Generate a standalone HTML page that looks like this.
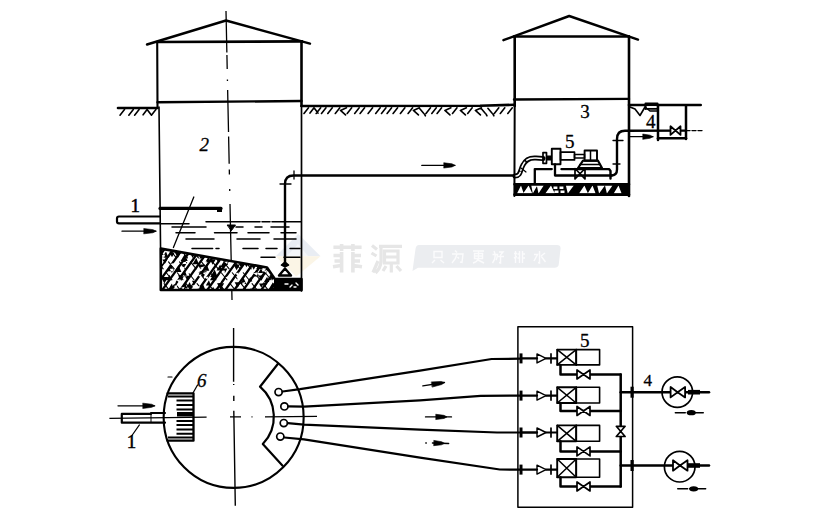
<!DOCTYPE html>
<html><head><meta charset="utf-8"><style>
html,body{margin:0;padding:0;background:#fff;width:821px;height:515px;overflow:hidden}
svg{display:block}
</style></head><body>
<svg width="821" height="515" viewBox="0 0 821 515">
<g stroke="none">
<polygon points="298.2,233.9 320.5,256.2 275.8,256.2" fill="#e9edf3"/>
<polygon points="275.8,256.2 320.5,256.2 296.2,276.6" fill="#fbf5e6"/>
<polygon points="298,244 308,256 287,256" fill="#f4f6f9"/>
</g>
<g stroke="#e6e6e6" stroke-width="3.6" stroke-linecap="butt" fill="none">
<path d="M333.4,247.3 L361.6,247.3 M341.6,244 L341.6,251 M352.9,244 L352.9,251 M341.6,252 L341.6,272.5 M352.9,252 L352.9,272.5 M333.5,255.5 L341,255.5 M334.5,261 L341,261 M333,266.8 L341,265.5 M353,255.5 L361,255.5 M353,261 L360,261 M353,265.5 L362,266.8" stroke-width="3.6" />
<path d="M372,245.5 L377,249.5 M371.5,253 L376.5,256 M378,261 L373,272.5 M379,246.3 L402,246.3 M381,247 L381,262 Q380.5,268 375.5,273 M384.5,251 L398,251 L398,263 L384.5,263 Z M384.5,257 L398,257 M391.3,263 L391.3,272.5 M386,266 L383,271 M396.5,266 L401,271" stroke-width="3.2" />
</g>
<path d="M419,245 L557,245 Q561,245 560.5,249 L558.8,264 Q558.5,267.8 554.5,267.8 L418,267.8 L412.5,271 L415.5,249 Q416,245 419,245 Z" fill="#ebedf0" stroke="none"/>
<g stroke="#fbfbfc" stroke-width="1.4" fill="none">
<path d="M434,251.5 L442,251.5 L442,257.5 L434,257.5 Z M435,260 L432,263 M440.5,260 L444,263" stroke-width="1.4" />
<path d="M455,250.5 L457,252.5 M452,254 L463,254 L462,262.5 L460,262 M457,254 Q456,259 452,263 M457.5,257 L459,258.5" stroke-width="1.4" />
<path d="M473,251 L484,251 M474.5,253.5 L482.5,253.5 L482.5,258.5 L474.5,258.5 Z M474.5,256 L482.5,256 M478.5,251 L478.5,258.5 Q477,262 473,263 M478,260 L484,263" stroke-width="1.4" />
<path d="M494,251 Q497,257 492.5,263 M492.5,254.5 L497.5,254.5 Q497,259 496,260 M499,252 L503,252 L500.5,255 L500.5,263 L499,262.5 M498,256.5 L504,256.5" stroke-width="1.4" />
<path d="M514,253.5 L517,253.5 M515.5,251 L515.5,263 M514,258 L517,256.5 M519.5,251 L519.5,263 M522.5,251 L522.5,263 M517.5,254 L519.5,254 M517.5,258 L519.5,258 M522.5,254 L525,254 M522.5,258 L525,258" stroke-width="1.4" />
<path d="M539.5,251 L539.5,263 L538,262.5 M534,254.5 L537.5,254.5 L534,261 M545,253 L541,256 M541,256 L545.5,262" stroke-width="1.4" />
</g>
<g stroke="#000" fill="none" stroke-linecap="round" stroke-linejoin="round">
<polyline points="147,44.5 226,20.5 310,43.6" stroke-width="2.4" />
<line x1="157" y1="42" x2="302" y2="41.4" stroke-width="2.7" />
<line x1="157.2" y1="42" x2="157.5" y2="108" stroke-width="2.1" />
<line x1="301.5" y1="41.5" x2="301.5" y2="106" stroke-width="2.6" />
<line x1="157.5" y1="102.3" x2="301.5" y2="101" stroke-width="2.4" />
<line x1="118" y1="108" x2="157.5" y2="108" stroke-width="2.6" />
<path d="M124.5,109.5 L120.0,115.2 M133.3,109.5 L128.8,115.2 M139.1,109.5 L134.6,115.2 M143.1,114.8 L147.1,109.5 L151.1,114.8 M155.9,109.5 L151.4,115.2" stroke-width="1.6" />
<line x1="159" y1="107" x2="161" y2="290" stroke-width="1.6" />
<line x1="301.5" y1="106" x2="301.5" y2="291" stroke-width="1.7" />
<path d="M226.00,11 L226.86,52.5 M226.92,55 L227.21,69 M227.42,79.5 L227.46,81 M227.64,90 L228.52,132 M228.61,136.6 L229.18,163.7 M229.30,169.5 L229.40,174.5 M229.70,189 L229.74,191 M230.01,204 L232.01,300" stroke-width="1.3" stroke-linecap="butt"/>
<path d="M301.5,106 L480,105.7 L514,104.8" stroke-width="2.6" />
<path d="M308.5,107.8 L304.0,113.5 M310.0,113.1 L314.0,107.8 L318.0,113.1 M320.7,107.8 L316.2,113.5 M326.0,107.8 L321.5,113.5 M332.3,107.8 L327.8,113.5 M339.8,107.8 L335.3,113.5 M346.5,107.8 L340.5,110.4 L345.5,114.9 M351.7,107.8 L347.2,113.5 M359.2,107.8 L354.7,113.5 M364.6,107.8 L360.1,113.5 M372.6,107.8 L368.1,113.5 M380.2,107.8 L375.7,113.5 M386.0,107.8 L381.5,113.5 M391.6,107.8 L387.1,113.5 M397.6,107.8 L393.1,113.5 M404.9,107.8 L400.4,113.5 M412.6,107.8 L408.1,113.5 M419.4,107.8 L413.4,110.4 L418.4,114.9 M419.4,108.3 L423.4,113.1 M424.4,114.0 L425.4,115.8 M430.5,107.8 L426.0,113.5 M436.3,107.8 L431.8,113.5 M441.6,107.8 L437.1,113.5 M450.9,107.8 L444.9,110.4 L449.9,114.9 M457.0,107.8 L452.5,113.5 M466.4,107.8 L460.4,110.4 L465.4,114.9 M472.2,107.8 L467.7,113.5 M481.4,107.8 L475.4,110.4 L480.4,114.9 M481.0,108.3 L485.0,113.1 M486.0,114.0 L487.0,115.8 M487.9,108.3 L491.9,113.1 M492.9,114.0 L493.9,115.8 M498.8,107.8 L494.3,113.5 M504.8,107.8 L500.3,113.5 M512.3,107.8 L507.8,113.5" stroke-width="1.6" />
<line x1="629" y1="105" x2="700.7" y2="105" stroke-width="2.6" />
<polyline points="503.4,40.2 569.2,16 638,39.6" stroke-width="2.4" />
<line x1="514" y1="36.5" x2="629" y2="36.5" stroke-width="2.6" />
<line x1="514.7" y1="36.5" x2="514.7" y2="106" stroke-width="2.6" />
<line x1="629" y1="36.5" x2="629" y2="196" stroke-width="2.6" />
<line x1="514.7" y1="106" x2="514.4" y2="196" stroke-width="2.0" />
<line x1="514" y1="99.5" x2="629" y2="98.9" stroke-width="2.4" />
<text x="199.6" y="150.8" font-family="Liberation Serif" font-size="19" font-style="italic" fill="#000" stroke="#000" stroke-width="0.3">2</text>
<text x="130.5" y="212" font-family="Liberation Serif" font-size="19" fill="#000" stroke="#000" stroke-width="0.5">1</text>
<path d="M160,216.5 L119,216.5 Q117,216.5 117,218.5 L117,221.5 Q117,223.3 119,223.3 L160,223.3" stroke-width="2.2" />
<line x1="122" y1="231.2" x2="156" y2="231.2" stroke-width="1.3"/>
<polygon points="144.00,228.60 153.00,229.64 156.00,231.20 153.00,232.76 144.00,233.80" fill="#000" stroke="#000" stroke-width="0.6"/>
<line x1="160" y1="208.4" x2="221" y2="208.4" stroke-width="3.2" />
<rect x="217" y="207" width="5" height="5" fill="#000" stroke="none"/>
<line x1="193.8" y1="197" x2="173.4" y2="247.5" stroke-width="1.3" />
<path d="M160.5,223.8 L189,223.8" stroke-width="1.5" />
<path d="M206,221.8 L260,221.8 M262,221.8 L270,221.8 M272,221.8 L301,221.8" stroke-width="1.5" />
<path d="M172,226.9 L206,226.9 M236,226.9 L243,226.9 M255,226.9 L262,226.9 M271,226.9 L289,226.9" stroke-width="1.5" />
<path d="M176,232.8 L195,232.8 M214.5,232.8 L237,232.8 M248,232.8 L269,232.8 M281,232.8 L296,232.8" stroke-width="1.5" />
<path d="M186,238.9 L214,238.9 M237,238.9 L260,238.9 M274,238.9 L296,238.9" stroke-width="1.5" />
<path d="M192,248.4 L212.6,248.4 M216,248.4 L219,248.4 M243,248.4 L258,248.4 M266,248.4 L277,248.4 M290,248.4 L300,248.4" stroke-width="1.5" />
<path d="M261,257.2 L275,257.2 M284,257.2 L300,257.2" stroke-width="1.5" />
<path d="M227.5,225 L235.5,225 L231.5,230.5 Z" stroke-width="1" fill="#000"/>
<clipPath id="sedc"><polygon points="160.8,248.6 267,267.5 274.8,279 301.5,279 301.5,290 160.8,290"/></clipPath>
<g clip-path="url(#sedc)">
<polygon points="160.8,248.6 267,267.5 274.8,279 301.5,279 301.5,290 160.8,290" fill="#fff" stroke="none"/>
<polygon points="160.8,248.6 267,267.5 274.8,279 301.5,279 301.5,290 160.8,290" fill="#fff" stroke="none"/>
<path d="M32,296 L72,240 M41,296 L81,240 M50,296 L90,240 M59,296 L99,240 M68,296 L108,240 M77,296 L117,240 M86,296 L126,240 M95,296 L135,240 M104,296 L144,240 M113,296 L153,240 M122,296 L162,240 M131,296 L171,240 M140,296 L180,240 M149,296 L189,240 M158,296 L198,240 M167,296 L207,240 M176,296 L216,240 M185,296 L225,240 M194,296 L234,240 M203,296 L243,240 M212,296 L252,240 M221,296 L261,240 M230,296 L270,240 M239,296 L279,240 M248,296 L288,240 M257,296 L297,240 M266,296 L306,240 M275,296 L315,240 M284,296 L324,240 M293,296 L333,240 M302,296 L342,240 M311,296 L351,240 M320,296 L360,240 M329,296 L369,240 M338,296 L378,240 M347,296 L387,240 M356,296 L396,240 M365,296 L405,240 M374,296 L414,240 M383,296 L423,240 M392,296 L432,240 M401,296 L441,240 M410,296 L450,240 M419,296 L459,240 M428,296 L468,240 M437,296 L477,240 M446,296 L486,240 M455,296 L495,240 M464,296 L504,240 M473,296 L513,240 M482,296 L522,240 M491,296 L531,240" stroke="#000" stroke-width="2.3"/>
<path d="M8,240 L53,296 M19,240 L64,296 M30,240 L75,296 M41,240 L86,296 M52,240 L97,296 M63,240 L108,296 M74,240 L119,296 M85,240 L130,296 M96,240 L141,296 M107,240 L152,296 M118,240 L163,296 M129,240 L174,296 M140,240 L185,296 M151,240 L196,296 M162,240 L207,296 M173,240 L218,296 M184,240 L229,296 M195,240 L240,296 M206,240 L251,296 M217,240 L262,296 M228,240 L273,296 M239,240 L284,296 M250,240 L295,296 M261,240 L306,296 M272,240 L317,296 M283,240 L328,296 M294,240 L339,296 M305,240 L350,296 M316,240 L361,296 M327,240 L372,296 M338,240 L383,296 M349,240 L394,296 M360,240 L405,296 M371,240 L416,296 M382,240 L427,296 M393,240 L438,296 M404,240 L449,296 M415,240 L460,296 M426,240 L471,296 M437,240 L482,296 M448,240 L493,296 M459,240 L504,296 M470,240 L515,296 M481,240 L526,296 M492,240 L537,296 M503,240 L548,296 M514,240 L559,296 M525,240 L570,296 M536,240 L581,296 M547,240 L592,296 M558,240 L603,296 M569,240 L614,296" stroke="#000" stroke-width="1.1" stroke-dasharray="9 5"/>
<path d="M150.2,247.6 l5.9,0 l-2.4,-5.9 Z M148.7,252.4 l6.4,0 l-2.6,-6.4 Z M149.2,257.3 l6.9,0 l-2.8,-6.9 Z M151.9,266.3 l6.5,0 l-2.6,-6.5 Z M148.1,264.1 l4.7,0 l-2.3,4.2 Z M148.1,275.7 l5.8,0 l-2.3,-5.8 Z M150.6,276.0 l6.5,0 l-3.2,5.8 Z M152.0,291.0 l7.0,0 l-2.8,-7.0 Z M148.9,291.9 l4.7,0 l-1.9,-4.7 Z M151.4,300.9 l7.4,0 l-2.9,-7.4 Z M154.8,247.6 l5.9,0 l-2.4,-5.9 Z M154.3,246.5 l6.8,0 l-3.4,6.2 Z M155.3,253.9 l6.8,0 l-3.4,6.1 Z M154.4,256.2 l6.9,0 l-3.4,6.2 Z M155.8,262.8 l6.7,0 l-3.3,6.0 Z M155.7,280.2 l5.3,0 l-2.1,-5.3 Z M157.5,292.5 l5.7,0 l-2.3,-5.7 Z M164.0,244.1 l5.3,0 l-2.1,-5.3 Z M161.2,249.1 l4.8,0 l-1.9,-4.8 Z M162.4,257.3 l5.9,0 l-2.3,-5.9 Z M162.3,259.5 l5.0,0 l-2.5,4.5 Z M160.8,277.0 l7.3,0 l-3.7,6.6 Z M166.4,238.2 l7.4,0 l-3.7,6.6 Z M169.3,252.4 l5.4,0 l-2.7,4.8 Z M166.9,271.3 l7.1,0 l-2.8,-7.1 Z M169.7,268.8 l4.5,0 l-2.3,4.1 Z M166.2,280.3 l5.6,0 l-2.2,-5.6 Z M167.4,291.0 l7.4,0 l-3.0,-7.4 Z M166.6,296.7 l4.6,0 l-1.8,-4.6 Z M174.5,251.9 l6.7,0 l-3.3,6.0 Z M174.2,272.1 l7.2,0 l-2.9,-7.2 Z M174.7,289.6 l7.1,0 l-3.6,6.4 Z M180.5,251.8 l6.2,0 l-2.5,-6.2 Z M180.6,261.1 l7.1,0 l-2.9,-7.1 Z M180.9,264.1 l5.8,0 l-2.3,-5.8 Z M181.0,262.1 l6.3,0 l-3.2,5.7 Z M180.8,276.3 l6.3,0 l-2.5,-6.3 Z M178.0,275.2 l6.5,0 l-3.3,5.9 Z M181.6,288.5 l5.8,0 l-2.3,-5.8 Z M180.7,292.6 l5.8,0 l-2.3,-5.8 Z M186.3,245.3 l4.9,0 l-2.5,4.4 Z M184.7,275.8 l5.3,0 l-2.7,4.8 Z M186.5,287.4 l5.4,0 l-2.2,-5.4 Z M184.3,292.1 l7.1,0 l-3.6,6.4 Z M191.2,247.2 l4.6,0 l-2.3,4.1 Z M190.1,253.3 l5.2,0 l-2.6,4.7 Z M192.5,264.2 l6.4,0 l-2.6,-6.4 Z M191.9,280.7 l4.5,0 l-2.3,4.1 Z M191.1,300.0 l6.6,0 l-2.6,-6.6 Z M199.2,258.4 l4.8,0 l-1.9,-4.8 Z M197.8,264.5 l7.2,0 l-3.6,6.5 Z M199.5,271.2 l7.3,0 l-3.7,6.6 Z M198.9,289.7 l6.4,0 l-2.6,-6.4 Z M199.6,297.4 l7.4,0 l-3.0,-7.4 Z M205.6,241.4 l5.5,0 l-2.8,5.0 Z M204.2,247.1 l6.0,0 l-3.0,5.4 Z M205.2,262.2 l5.5,0 l-2.2,-5.5 Z M202.6,270.7 l6.7,0 l-2.7,-6.7 Z M205.8,285.5 l5.2,0 l-2.1,-5.2 Z M204.9,294.6 l6.1,0 l-2.4,-6.1 Z M203.2,300.6 l7.0,0 l-2.8,-7.0 Z M211.4,247.9 l6.1,0 l-2.4,-6.1 Z M210.1,246.0 l6.3,0 l-3.2,5.7 Z M209.6,259.2 l6.2,0 l-3.1,5.6 Z M210.2,277.0 l7.4,0 l-2.9,-7.4 Z M209.9,280.3 l5.8,0 l-2.3,-5.8 Z M209.3,293.1 l6.4,0 l-2.5,-6.4 Z M211.1,292.1 l5.1,0 l-2.5,4.6 Z M215.4,251.3 l4.8,0 l-1.9,-4.8 Z M216.0,256.1 l5.1,0 l-2.0,-5.1 Z M215.5,257.7 l6.1,0 l-3.0,5.5 Z M216.5,270.6 l6.1,0 l-2.4,-6.1 Z M217.0,283.2 l7.2,0 l-3.6,6.5 Z M217.7,294.4 l7.5,0 l-3.0,-7.5 Z M215.0,294.9 l5.3,0 l-2.6,4.8 Z M223.2,250.2 l5.7,0 l-2.3,-5.7 Z M220.8,260.0 l7.2,0 l-2.9,-7.2 Z M222.0,265.0 l6.0,0 l-2.4,-6.0 Z M220.3,267.0 l4.6,0 l-1.8,-4.6 Z M222.3,268.6 l5.1,0 l-2.5,4.5 Z M220.2,301.7 l5.9,0 l-2.4,-5.9 Z M227.9,245.9 l5.8,0 l-2.3,-5.8 Z M228.8,247.4 l5.0,0 l-2.5,4.5 Z M226.8,256.7 l6.0,0 l-3.0,5.4 Z M228.4,301.5 l7.4,0 l-3.0,-7.4 Z M235.6,247.8 l6.8,0 l-2.7,-6.8 Z M235.6,254.1 l6.6,0 l-2.6,-6.6 Z M234.9,256.3 l5.5,0 l-2.8,5.0 Z M233.4,264.6 l6.4,0 l-3.2,5.7 Z M234.6,282.3 l6.1,0 l-3.0,5.5 Z M240.5,259.0 l5.3,0 l-2.6,4.7 Z M238.8,263.5 l4.8,0 l-2.4,4.3 Z M240.0,284.1 l6.2,0 l-2.5,-6.2 Z M240.4,299.7 l4.6,0 l-1.9,-4.6 Z M245.9,244.7 l6.0,0 l-2.4,-6.0 Z M247.8,251.8 l6.1,0 l-2.4,-6.1 Z M245.1,252.6 l6.2,0 l-3.1,5.6 Z M244.1,263.0 l4.6,0 l-2.3,4.2 Z M247.6,281.6 l4.7,0 l-1.9,-4.7 Z M247.6,293.7 l5.9,0 l-2.4,-5.9 Z M246.1,295.7 l6.7,0 l-3.3,6.0 Z M252.5,257.8 l5.1,0 l-2.6,4.6 Z M250.5,263.8 l6.5,0 l-3.3,5.9 Z M252.3,276.5 l6.8,0 l-2.7,-6.8 Z M250.5,302.4 l6.9,0 l-2.7,-6.9 Z M257.1,246.9 l6.2,0 l-2.5,-6.2 Z M257.0,267.2 l7.2,0 l-2.9,-7.2 Z M256.2,268.9 l5.8,0 l-2.3,-5.8 Z M258.2,273.0 l4.8,0 l-1.9,-4.8 Z M258.5,275.5 l5.9,0 l-3.0,5.3 Z M259.0,283.4 l4.7,0 l-2.4,4.3 Z M263.7,245.0 l6.9,0 l-3.5,6.2 Z M264.2,265.0 l7.3,0 l-3.6,6.5 Z M262.4,271.5 l4.7,0 l-2.4,4.3 Z M263.9,282.1 l5.4,0 l-2.2,-5.4 Z M262.9,282.6 l4.7,0 l-2.4,4.3 Z M268.6,239.4 l6.7,0 l-3.3,6.0 Z M270.8,253.5 l7.3,0 l-2.9,-7.3 Z M271.2,257.2 l5.5,0 l-2.7,4.9 Z M269.4,275.5 l5.6,0 l-2.8,5.0 Z M268.8,289.1 l6.9,0 l-2.8,-6.9 Z M268.7,295.0 l7.1,0 l-3.6,6.4 Z M276.1,246.4 l6.2,0 l-2.5,-6.2 Z M276.2,259.2 l4.8,0 l-2.4,4.3 Z M276.5,281.3 l6.7,0 l-2.7,-6.7 Z M274.9,289.1 l6.1,0 l-2.4,-6.1 Z M275.4,289.9 l6.5,0 l-3.3,5.9 Z M276.9,294.8 l7.2,0 l-3.6,6.5 Z M282.8,289.2 l5.8,0 l-2.9,5.2 Z M283.0,296.0 l5.6,0 l-2.8,5.1 Z M287.7,239.2 l7.4,0 l-3.7,6.7 Z M286.5,246.6 l6.8,0 l-3.4,6.1 Z M287.8,252.3 l7.2,0 l-3.6,6.5 Z M286.7,262.1 l5.2,0 l-2.1,-5.2 Z M286.9,262.7 l5.3,0 l-2.7,4.8 Z M288.2,277.3 l5.9,0 l-3.0,5.3 Z M288.2,295.8 l5.9,0 l-3.0,5.4 Z M295.8,246.9 l5.7,0 l-2.3,-5.7 Z M293.1,248.0 l6.5,0 l-3.2,5.8 Z M293.9,258.4 l6.9,0 l-2.8,-6.9 Z M292.6,268.6 l5.3,0 l-2.1,-5.3 Z M294.5,277.3 l5.3,0 l-2.1,-5.3 Z M295.1,281.0 l7.0,0 l-2.8,-7.0 Z M293.1,288.9 l4.8,0 l-2.4,4.3 Z M295.8,294.3 l7.1,0 l-3.5,6.4 Z M301.7,244.4 l7.0,0 l-3.5,6.3 Z M300.1,250.6 l7.0,0 l-3.5,6.3 Z M298.3,263.1 l5.9,0 l-2.4,-5.9 Z M300.7,262.4 l5.7,0 l-2.8,5.1 Z M299.5,294.1 l5.2,0 l-2.1,-5.2 Z M298.0,296.0 l6.9,0 l-3.4,6.2 Z M305.5,246.2 l5.4,0 l-2.7,4.9 Z M306.7,256.1 l5.1,0 l-2.0,-5.1 Z M307.8,258.3 l6.7,0 l-3.3,6.0 Z M304.6,274.9 l6.5,0 l-2.6,-6.5 Z M305.6,277.3 l6.3,0 l-3.1,5.7 Z M304.6,280.5 l5.7,0 l-2.9,5.1 Z M306.0,301.4 l6.8,0 l-2.7,-6.8 Z" fill="#000" stroke="none"/>
<path d="M203.2,261.9 l3.5,-1 l-1,3 Z M206.2,248.6 l3.5,-1 l-1,3 Z M204.9,277.4 l3.5,-1 l-1,3 Z M272.9,281.2 l3.5,-1 l-1,3 Z M235.2,273.6 l3.5,-1 l-1,3 Z M160.2,261.9 l3.5,-1 l-1,3 Z M198.0,275.3 l3.5,-1 l-1,3 Z M170.4,263.9 l3.5,-1 l-1,3 Z M217.6,281.1 l3.5,-1 l-1,3 Z M254.5,273.7 l3.5,-1 l-1,3 Z M176.5,280.2 l3.5,-1 l-1,3 Z M263.7,271.0 l3.5,-1 l-1,3 Z M199.2,269.0 l3.5,-1 l-1,3 Z M174.6,278.0 l3.5,-1 l-1,3 Z M273.5,269.7 l3.5,-1 l-1,3 Z M241.7,283.1 l3.5,-1 l-1,3 Z M181.1,287.7 l3.5,-1 l-1,3 Z M231.4,256.3 l3.5,-1 l-1,3 Z M167.7,258.3 l3.5,-1 l-1,3 Z M225.4,277.3 l3.5,-1 l-1,3 Z M196.5,287.0 l3.5,-1 l-1,3 Z M200.3,267.4 l3.5,-1 l-1,3 Z M172.5,288.9 l3.5,-1 l-1,3 Z M173.9,286.0 l3.5,-1 l-1,3 Z M221.6,271.6 l3.5,-1 l-1,3 Z M223.6,259.1 l3.5,-1 l-1,3 Z M264.4,289.7 l3.5,-1 l-1,3 Z M253.6,273.3 l3.5,-1 l-1,3 Z M172.4,282.6 l3.5,-1 l-1,3 Z M191.8,285.7 l3.5,-1 l-1,3 Z M186.2,272.1 l3.5,-1 l-1,3 Z M255.2,255.8 l3.5,-1 l-1,3 Z M222.1,251.2 l3.5,-1 l-1,3 Z M161.7,255.6 l3.5,-1 l-1,3 Z M273.5,287.5 l3.5,-1 l-1,3 Z M235.0,260.9 l3.5,-1 l-1,3 Z M236.5,279.0 l3.5,-1 l-1,3 Z M202.7,272.9 l3.5,-1 l-1,3 Z M252.0,248.7 l3.5,-1 l-1,3 Z M181.3,267.7 l3.5,-1 l-1,3 Z M174.7,264.2 l3.5,-1 l-1,3 Z M224.6,255.3 l3.5,-1 l-1,3 Z M218.8,259.1 l3.5,-1 l-1,3 Z M224.5,261.9 l3.5,-1 l-1,3 Z M233.1,249.6 l3.5,-1 l-1,3 Z" fill="#fff" stroke="none"/>
<rect x="274" y="279" width="28" height="12" fill="#000" stroke="none"/>
<path d="M285,284 l3,0 M290,287 l2,-2 M296,283 l2,2 M294,287 l2,0" stroke="#fff" stroke-width="1.4"/>
</g>
<polygon points="160.8,248.6 267,267.5 274.8,279 301.5,279 301.5,290 160.8,290" fill="none" stroke="#000" stroke-width="2.6"/>
<path d="M285,264.5 L285,184 Q285,175.5 293.5,175.5 L514,175.5" stroke-width="2.4" />
<line x1="280" y1="184" x2="291" y2="184" stroke-width="1.3" />
<line x1="294" y1="171" x2="294" y2="179" stroke-width="1.3" />
<path d="M285,262 l3.5,3 l-3.5,1.8 l-3.5,-1.8 Z" stroke-width="1.6" fill="#000"/>
<path d="M279,275.5 L291,275.5 L285,268.5 Z" stroke-width="2.4" />
<line x1="421.8" y1="165.4" x2="455" y2="165.4" stroke-width="1.3"/>
<polygon points="444.00,162.80 452.00,163.84 455.00,165.40 452.00,166.96 444.00,168.00" fill="#000" stroke="#000" stroke-width="0.6"/>
<text x="580.2" y="118" font-family="Liberation Serif" font-size="19" fill="#000" stroke="#000" stroke-width="0.3">3</text>
<text x="565.1" y="148.1" font-family="Liberation Serif" font-size="19" fill="#000" stroke="#000" stroke-width="0.3">5</text>
<text x="646.1" y="128.1" font-family="Liberation Serif" font-size="19" fill="#000" stroke="#000" stroke-width="0.3">4</text>
<clipPath id="slabc"><rect x="514.5" y="184" width="115" height="11"/></clipPath>
<g clip-path="url(#slabc)">
<rect x="514.5" y="184" width="115" height="11" fill="#000" stroke="none"/>
<path d="M517.0,193.4 L523.7,193.4 L521.0,185.6 Z M523.1,193.4 L532.3,193.4 L528.6,185.6 Z M531.3,185.6 L537.3,185.6 L532.8,193.4 Z M536.8,185.6 L543.7,185.6 L538.5,193.4 Z M545.3,193.4 L554.8,193.4 L551.0,185.6 Z M553.5,186.5 l3.9,0 l0,2.5 l-3.9,0 Z M554.5,190.5 l4,0 l0,2.5 l-4,0 Z M559.5,186.5 l3.9,0 l0,2.5 l-3.9,0 Z M560.5,190.5 l4,0 l0,2.5 l-4,0 Z M565.9,185.6 L573.8,185.6 L567.8,193.4 Z M579.0,193.4 L588.0,193.4 L584.4,185.6 Z M587.7,193.4 L595.6,193.4 L592.5,185.6 Z M597.2,185.6 L604.9,185.6 L599.1,193.4 Z M605.0,185.6 L612.5,185.6 L606.9,193.4 Z M613.7,193.4 L621.6,193.4 L618.5,185.6 Z" fill="#fff" stroke="none"/>
</g>
<path d="M514.5,184.2 L629,184.2 M514.5,194.6 L629,194.6" stroke-width="2.6" />
<path d="M515,176 C521,176 520,170 523,165 C526,159 530,157.5 536,158 L543,158.5" stroke-width="5.0" />
<path d="M516,176 C521,176 520,170 523,165 C526,159 530,157.5 536,158 L542,158.5" stroke-width="1.5" stroke="#fff" stroke-dasharray="6 2 9 3 20"/>
<line x1="521" y1="168" x2="526" y2="172" stroke-width="1.2" />
<rect x="543" y="152.6" width="3.5" height="10.7" stroke-width="1.7"/>
<rect x="546.5" y="155.5" width="5" height="5" fill="#000" stroke="none"/>
<rect x="551.8" y="148.7" width="8.7" height="15.6" stroke-width="1.9"/>
<rect x="560.5" y="152.1" width="14" height="7.8" stroke-width="1.7"/>
<rect x="574.5" y="154.5" width="10" height="3.5" stroke-width="1.5"/>
<rect x="584.6" y="150.5" width="12.4" height="10.2" stroke-width="1.9"/>
<line x1="590.5" y1="151" x2="590.5" y2="160" stroke-width="1.5" />
<path d="M583,160.7 L598,160.7 L602,168 L578,168 Z" stroke-width="2.2" />
<line x1="580" y1="164.5" x2="600" y2="164.5" stroke-width="1.6" />
<path d="M534.8,183 L534.8,169.1 L551.8,169.1" stroke-width="2.3" />
<path d="M561.5,169.1 L609,169.1 L610.5,171 L610.5,178.5" stroke-width="2.4" />
<path d="M611,175.5 Q617,175.5 617,169.5 L617,139 Q617,130.8 625,130.8 L686,130.6" stroke-width="2.4" />
<path d="M555,164.3 L555,175.5 L612,175.5" stroke-width="2.3" />
<path d="M575,168.5 L585,179 L585,168.5 L575,179 Z" stroke-width="1.7" />
<line x1="613" y1="140.5" x2="623" y2="140.5" stroke-width="1.3" />
<line x1="613" y1="164" x2="620" y2="164" stroke-width="1.3" />
<path d="M630,107 L635,109 L640,115.5 L645,107 L650,111 L657,111" stroke-width="1.6" />
<path d="M645.5,109 L645.5,103.5 L657.5,103.5 M645.5,108.8 L657.5,108.8" stroke-width="2.0" />
<rect x="647" y="106.2" width="9.5" height="1.6" fill="#fff" stroke="none"/>
<line x1="658" y1="105" x2="658" y2="140" stroke-width="2.5" />
<line x1="686" y1="106" x2="686" y2="139" stroke-width="2.5" />
<line x1="658" y1="138.3" x2="686" y2="138.3" stroke-width="2.5" />
<path d="M670.5,126.3 L670.5,134.9 L680.5,126.3 L680.5,134.9 Z" stroke-width="1.8" fill="#fff"/>
<path d="M686,130.6 L702,130.6" stroke-width="1.4" stroke-dasharray="4 2"/>
<line x1="630" y1="136.7" x2="653" y2="136.7" stroke-width="1.3"/>
<polygon points="643.00,134.10 650.00,135.14 653.00,136.70 650.00,138.26 643.00,139.30" fill="#000" stroke="#000" stroke-width="0.6"/>
<ellipse cx="233.65" cy="417.4" rx="70" ry="70.5" stroke-width="2.1"/>
<path d="M233.6,328.1 L233.6,381.8 M233.7,384 L233.7,385 M233.8,395.8 L233.8,401 M233.8,410.7 L235.3,505.8" stroke-width="1.4" stroke-linecap="butt"/>
<path d="M109.4,418.3 L206.6,417.2 M230,416.8 L241,416.8 M251.5,416.8 L252.5,416.8 M265,416.8 L317,416.4" stroke-width="1.3" stroke-linecap="butt"/>
<path d="M167.5,393.3 L193.5,393.3 L193.5,440.7 L167.5,440.7" stroke-width="2.3" />
<path d="M168,396.5 L193,396.5 M176.5,400.4 L193,400.4 M176.5,405 L193,405 M176.5,409.5 L193,409.5 M176.5,421 L193,421 M176.5,425 L193,425 M176.5,429.5 L193,429.5 M176.5,433.8 L193,433.8 M168,437.5 L193,437.5" stroke-width="2.0" stroke-linecap="butt"/>
<rect x="177" y="412" width="16" height="4.5" fill="#000" stroke="none"/>
<line x1="168" y1="377" x2="172" y2="377" stroke-width="1.2" />
<path d="M165,413 L151,413 L151,413.9 L121.8,413.9 L121.8,422.7 L165,422.7" stroke-width="2.2" />
<line x1="151" y1="414" x2="151" y2="422.5" stroke-width="1.0" />
<line x1="118" y1="405.8" x2="154.7" y2="405.8" stroke-width="1.3"/>
<polygon points="143.00,403.20 151.70,404.24 154.70,405.80 151.70,407.36 143.00,408.40" fill="#000" stroke="#000" stroke-width="0.6"/>
<text x="197.1" y="386.6" font-family="Liberation Serif" font-size="19" font-style="italic" fill="#000" stroke="#000" stroke-width="0.3">6</text>
<line x1="193" y1="393" x2="197.5" y2="385" stroke-width="1.2" />
<text x="126.7" y="448.1" font-family="Liberation Serif" font-size="19" fill="#000" stroke="#000" stroke-width="0.5">1</text>
<line x1="139.4" y1="424.9" x2="131.6" y2="436" stroke-width="1.2" />
<path d="M278,363.7 L260,386.7 A39.5,39.5 0 0 1 262.8,444.1 L282.6,465.7" stroke-width="2.2" />
<circle cx="278.6" cy="392.1" r="3.6" stroke-width="1.7"/>
<circle cx="284.4" cy="406.4" r="3.6" stroke-width="1.7"/>
<circle cx="283.8" cy="423.1" r="3.6" stroke-width="1.7"/>
<circle cx="280.3" cy="436.6" r="3.6" stroke-width="1.7"/>
<polyline points="282.6,391.5 300,389.2 420,370.6 491.6,359 521,358.7" stroke-width="2.2" />
<polyline points="288.4,406.4 304,406.6 420,400.3 480.7,395.8 521,395.6" stroke-width="2.2" />
<polyline points="287.8,423.1 304,424.6 420,429.6 497,432.5 521,432.5" stroke-width="2.2" />
<polyline points="284.3,437.5 304,439.3 420,457.7 499.8,469.5 521,469.6" stroke-width="2.2" />
<line x1="422.8" y1="385.9" x2="444.5" y2="382.5" stroke-width="1.3"/>
<polygon points="431.60,381.89 441.26,381.43 444.50,382.50 441.74,384.51 432.40,387.03" fill="#000" stroke="#000" stroke-width="0.6"/>
<line x1="425.5" y1="416.9" x2="451.5" y2="416.9" stroke-width="1.3"/>
<polygon points="436.00,414.30 444.00,415.34 447.00,416.90 444.00,418.46 436.00,419.50" fill="#000" stroke="#000" stroke-width="0.6"/>
<line x1="432.4" y1="443" x2="448.7" y2="443.5" stroke-width="1.3"/>
<polygon points="434.08,440.45 441.55,441.72 444.50,443.37 441.45,444.84 433.92,445.65" fill="#000" stroke="#000" stroke-width="0.6"/>
<line x1="425.8" y1="443" x2="426.3" y2="443" stroke-width="1.4" />
<rect x="517.9" y="326.8" width="114.7" height="180.4" stroke-width="1.5"/>
<text x="580.1" y="347" font-family="Liberation Serif" font-size="19" fill="#000" stroke="#000" stroke-width="0.3">5</text>
<line x1="521" y1="358.4" x2="537" y2="358.4" stroke-width="2.3" />
<rect x="519.5" y="353.4" width="3" height="10" fill="#000" stroke="none"/>
<path d="M537,353.9 L546,358.4 L537,362.9 Z" stroke-width="1.4" />
<line x1="546" y1="358.4" x2="557" y2="358.4" stroke-width="2.1" />
<line x1="551" y1="353.9" x2="551" y2="362.9" stroke-width="1.7" />
<rect x="557.2" y="349.6" width="19" height="15.299999999999955" stroke-width="1.9"/>
<path d="M557.2,349.6 L576.2,364.9 M576.2,349.6 L557.2,364.9" stroke-width="1.5" />
<rect x="576.2" y="349.6" width="23.4" height="15.299999999999955" stroke-width="1.6"/>
<path d="M560.5,364.9 L560.5,374.5 L620.7,374.5" stroke-width="2.5" />
<path d="M577,370.0 L577,379.0 L590,370.0 L590,379.0 Z" stroke-width="1.7" fill="#fff"/>
<line x1="521" y1="395.6" x2="537" y2="395.6" stroke-width="2.3" />
<rect x="519.5" y="390.6" width="3" height="10" fill="#000" stroke="none"/>
<path d="M537,391.1 L546,395.6 L537,400.1 Z" stroke-width="1.4" />
<line x1="546" y1="395.6" x2="557" y2="395.6" stroke-width="2.1" />
<line x1="551" y1="391.1" x2="551" y2="400.1" stroke-width="1.7" />
<rect x="557.2" y="387.3" width="19" height="15.699999999999989" stroke-width="1.9"/>
<path d="M557.2,387.3 L576.2,403 M576.2,387.3 L557.2,403" stroke-width="1.5" />
<rect x="576.2" y="387.3" width="23.4" height="15.699999999999989" stroke-width="1.6"/>
<path d="M560.5,403 L560.5,411 L620.7,411" stroke-width="2.5" />
<path d="M577,406.5 L577,415.5 L590,406.5 L590,415.5 Z" stroke-width="1.7" fill="#fff"/>
<line x1="521" y1="432.5" x2="537" y2="432.5" stroke-width="2.3" />
<rect x="519.5" y="427.5" width="3" height="10" fill="#000" stroke="none"/>
<path d="M537,428.0 L546,432.5 L537,437.0 Z" stroke-width="1.4" />
<line x1="546" y1="432.5" x2="557" y2="432.5" stroke-width="2.1" />
<line x1="551" y1="428.0" x2="551" y2="437.0" stroke-width="1.7" />
<rect x="557.2" y="425.4" width="19" height="15.900000000000034" stroke-width="1.9"/>
<path d="M557.2,425.4 L576.2,441.3 M576.2,425.4 L557.2,441.3" stroke-width="1.5" />
<rect x="576.2" y="425.4" width="23.4" height="15.900000000000034" stroke-width="1.6"/>
<path d="M560.5,441.3 L560.5,451.4 L620.7,451.4" stroke-width="2.5" />
<path d="M577,446.9 L577,455.9 L590,446.9 L590,455.9 Z" stroke-width="1.7" fill="#fff"/>
<line x1="521" y1="469.6" x2="537" y2="469.6" stroke-width="2.3" />
<rect x="519.5" y="464.6" width="3" height="10" fill="#000" stroke="none"/>
<path d="M537,465.1 L546,469.6 L537,474.1 Z" stroke-width="1.4" />
<line x1="546" y1="469.6" x2="557" y2="469.6" stroke-width="2.1" />
<line x1="551" y1="465.1" x2="551" y2="474.1" stroke-width="1.7" />
<rect x="557.2" y="459" width="19" height="18.30000000000001" stroke-width="1.9"/>
<path d="M557.2,459 L576.2,477.3 M576.2,459 L557.2,477.3" stroke-width="1.5" />
<rect x="576.2" y="459" width="23.4" height="18.30000000000001" stroke-width="1.6"/>
<path d="M560.5,477.3 L560.5,486.5 L620.7,486.5" stroke-width="2.5" />
<path d="M577,482.0 L577,491.0 L590,482.0 L590,491.0 Z" stroke-width="1.7" fill="#fff"/>
<line x1="620.7" y1="374.5" x2="620.7" y2="486.5" stroke-width="2.5" />
<path d="M616.3,426.3 L625.1,426.3 L616.3,436.5 L625.1,436.5 Z" stroke-width="1.7" fill="#fff"/>
<line x1="620.7" y1="392.2" x2="709" y2="392.2" stroke-width="2.5" />
<rect x="630.5" y="386.7" width="3.2" height="11" fill="#000" stroke="none"/>
<rect x="688" y="389.9" width="12" height="4.6" fill="#000" stroke="none"/>
<circle cx="677.3" cy="392.1" r="15.3" stroke-width="1.7"/>
<path d="M670.5999999999999,387.0 L670.5999999999999,397.4 L677.5999999999999,392.2 Z M685.0999999999999,387.0 L685.0999999999999,397.4 L677.5999999999999,392.2 Z" stroke-width="1.8" fill="#fff"/>
<path d="M675.3,412.7 L685.3,412.7 M687.3,412.7 L703.3,412.7" stroke-width="1.4" />
<ellipse cx="691.3" cy="412.7" rx="4.5" ry="2.6" fill="#000" stroke="none"/>
<line x1="620.7" y1="465.5" x2="709" y2="465.5" stroke-width="2.5" />
<rect x="630.5" y="460.0" width="3.2" height="11" fill="#000" stroke="none"/>
<rect x="688" y="463.2" width="12" height="4.6" fill="#000" stroke="none"/>
<circle cx="679.7" cy="466.7" r="15.3" stroke-width="1.7"/>
<path d="M673.0,460.3 L673.0,470.7 L680.0,465.5 Z M687.5,460.3 L687.5,470.7 L680.0,465.5 Z" stroke-width="1.8" fill="#fff"/>
<path d="M677.7,488.8 L687.7,488.8 M689.7,488.8 L705.7,488.8" stroke-width="1.4" />
<ellipse cx="693.7" cy="488.8" rx="4.5" ry="2.6" fill="#000" stroke="none"/>
<text x="643.4" y="386" font-family="Liberation Serif" font-size="17" fill="#000" stroke="#000" stroke-width="0.3">4</text>
</g>
</svg></body></html>
